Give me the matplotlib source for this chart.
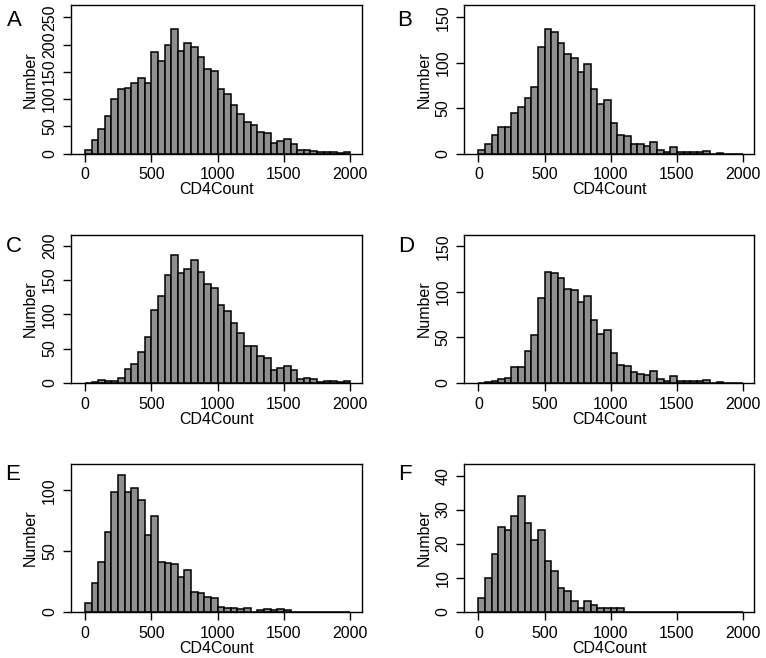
import matplotlib
matplotlib.use("Agg")
import matplotlib.pyplot as plt
import numpy as np

plt.rcParams['font.family'] = ['Liberation Sans', 'DejaVu Sans']

bin_edges = np.arange(0, 2001, 50)

counts_A = [6, 25, 45, 69, 101, 119, 120, 129, 138, 130, 186, 170, 200, 229, 189, 202, 196, 177, 156, 151,
            119, 109, 89, 73, 57, 53, 39, 37, 20, 23, 26, 17, 6, 7, 5, 2, 3, 3, 1, 3]
counts_B = [4, 11, 20, 29, 29, 45, 51, 61, 73, 117, 137, 134, 122, 110, 105, 90, 98, 71, 55, 59,
            34, 20, 19, 11, 10, 8, 13, 4, 2, 7, 2, 2, 2, 2, 3, 0, 1, 0, 0, 0]
counts_C = [0, 1, 4, 3, 2, 7, 20, 27, 45, 67, 106, 127, 158, 187, 160, 166, 179, 162, 144, 139,
            113, 105, 87, 72, 54, 53, 39, 36, 19, 22, 25, 18, 6, 7, 5, 1, 3, 3, 1, 3]
counts_D = [0, 1, 2, 4, 5, 17, 17, 35, 52, 93, 122, 121, 115, 103, 102, 89, 95, 69, 54, 58,
            33, 19, 18, 12, 10, 8, 13, 4, 2, 7, 2, 2, 2, 2, 3, 0, 1, 0, 0, 0]
counts_E = [7, 24, 41, 66, 99, 113, 99, 102, 92, 63, 79, 41, 40, 39, 29, 34, 16, 15, 12, 11,
            4, 3, 3, 2, 3, 0, 1, 2, 1, 2, 1, 0, 0, 0, 0, 0, 0, 0, 0, 0]
counts_F = [4, 10, 17, 25, 24, 28, 34, 26, 21, 24, 15, 12, 7, 6, 3, 1, 3, 2, 1, 1,
            1, 1, 0, 0, 0, 0, 0, 0, 0, 0, 0, 0, 0, 0, 0, 0, 0, 0, 0, 0]

panel_letters = ['A', 'B', 'C', 'D', 'E', 'F']
panel_counts = [counts_A, counts_B, counts_C, counts_D, counts_E, counts_F]
y_ticks = [[0, 50, 100, 150, 200, 250], [0, 50, 100, 150], [0, 50, 100, 150, 200],
           [0, 50, 100, 150], [0, 50, 100], [0, 10, 20, 30, 40]]
y_tops = [272.7, 163.5, 216, 162.5, 121.7, 43.4]
x_ticks = [0, 500, 1000, 1500, 2000]

W, H = 766, 658
fig = plt.figure(figsize=(W / 100, H / 100), dpi=100)

# pixel boxes: left, right, top, bottom
boxes = [(71, 361.5, 5, 153.5), (464.5, 754.3, 5, 153.5),
         (71, 361.5, 235, 382.7), (464.5, 754.3, 235, 382.7),
         (71, 361.5, 464, 611.7), (464.5, 754.3, 464, 611.7)]
letter_pos = [(14, 21), (405, 21), (14, 246), (406, 246), (13, 475), (405, 475)]

centers = (bin_edges[:-1] + bin_edges[1:]) / 2
for i in range(6):
    l, r, t, b = boxes[i]
    ax = fig.add_axes([l / W, 1 - b / H, (r - l) / W, (b - t) / H])
    ax.bar(centers, panel_counts[i], width=50, color='#8f8f8f', edgecolor='black', linewidth=1.1)
    ax.set_xlim(-105, 2085)
    ax.set_ylim(0, y_tops[i])
    ax.set_xticks(x_ticks)
    ax.set_yticks(y_ticks[i])
    ax.set_yticklabels([str(v) for v in y_ticks[i]], rotation=90, va='center')
    ax.tick_params(direction='out', length=6, width=1, labelsize=11.5)
    ax.tick_params(axis='x', pad=4)
    ax.tick_params(axis='y', pad=4)
    for s in ax.spines.values():
        s.set_linewidth(1)
    ax.set_xlabel('CD4Count', fontsize=11.5, labelpad=0)
    ax.set_ylabel('Number', fontsize=11.5, labelpad=3)
    fig.text(letter_pos[i][0] / W, 1 - letter_pos[i][1] / H, panel_letters[i],
             fontsize=16, ha='center', va='center')

fig.savefig('out.png', dpi=100)
